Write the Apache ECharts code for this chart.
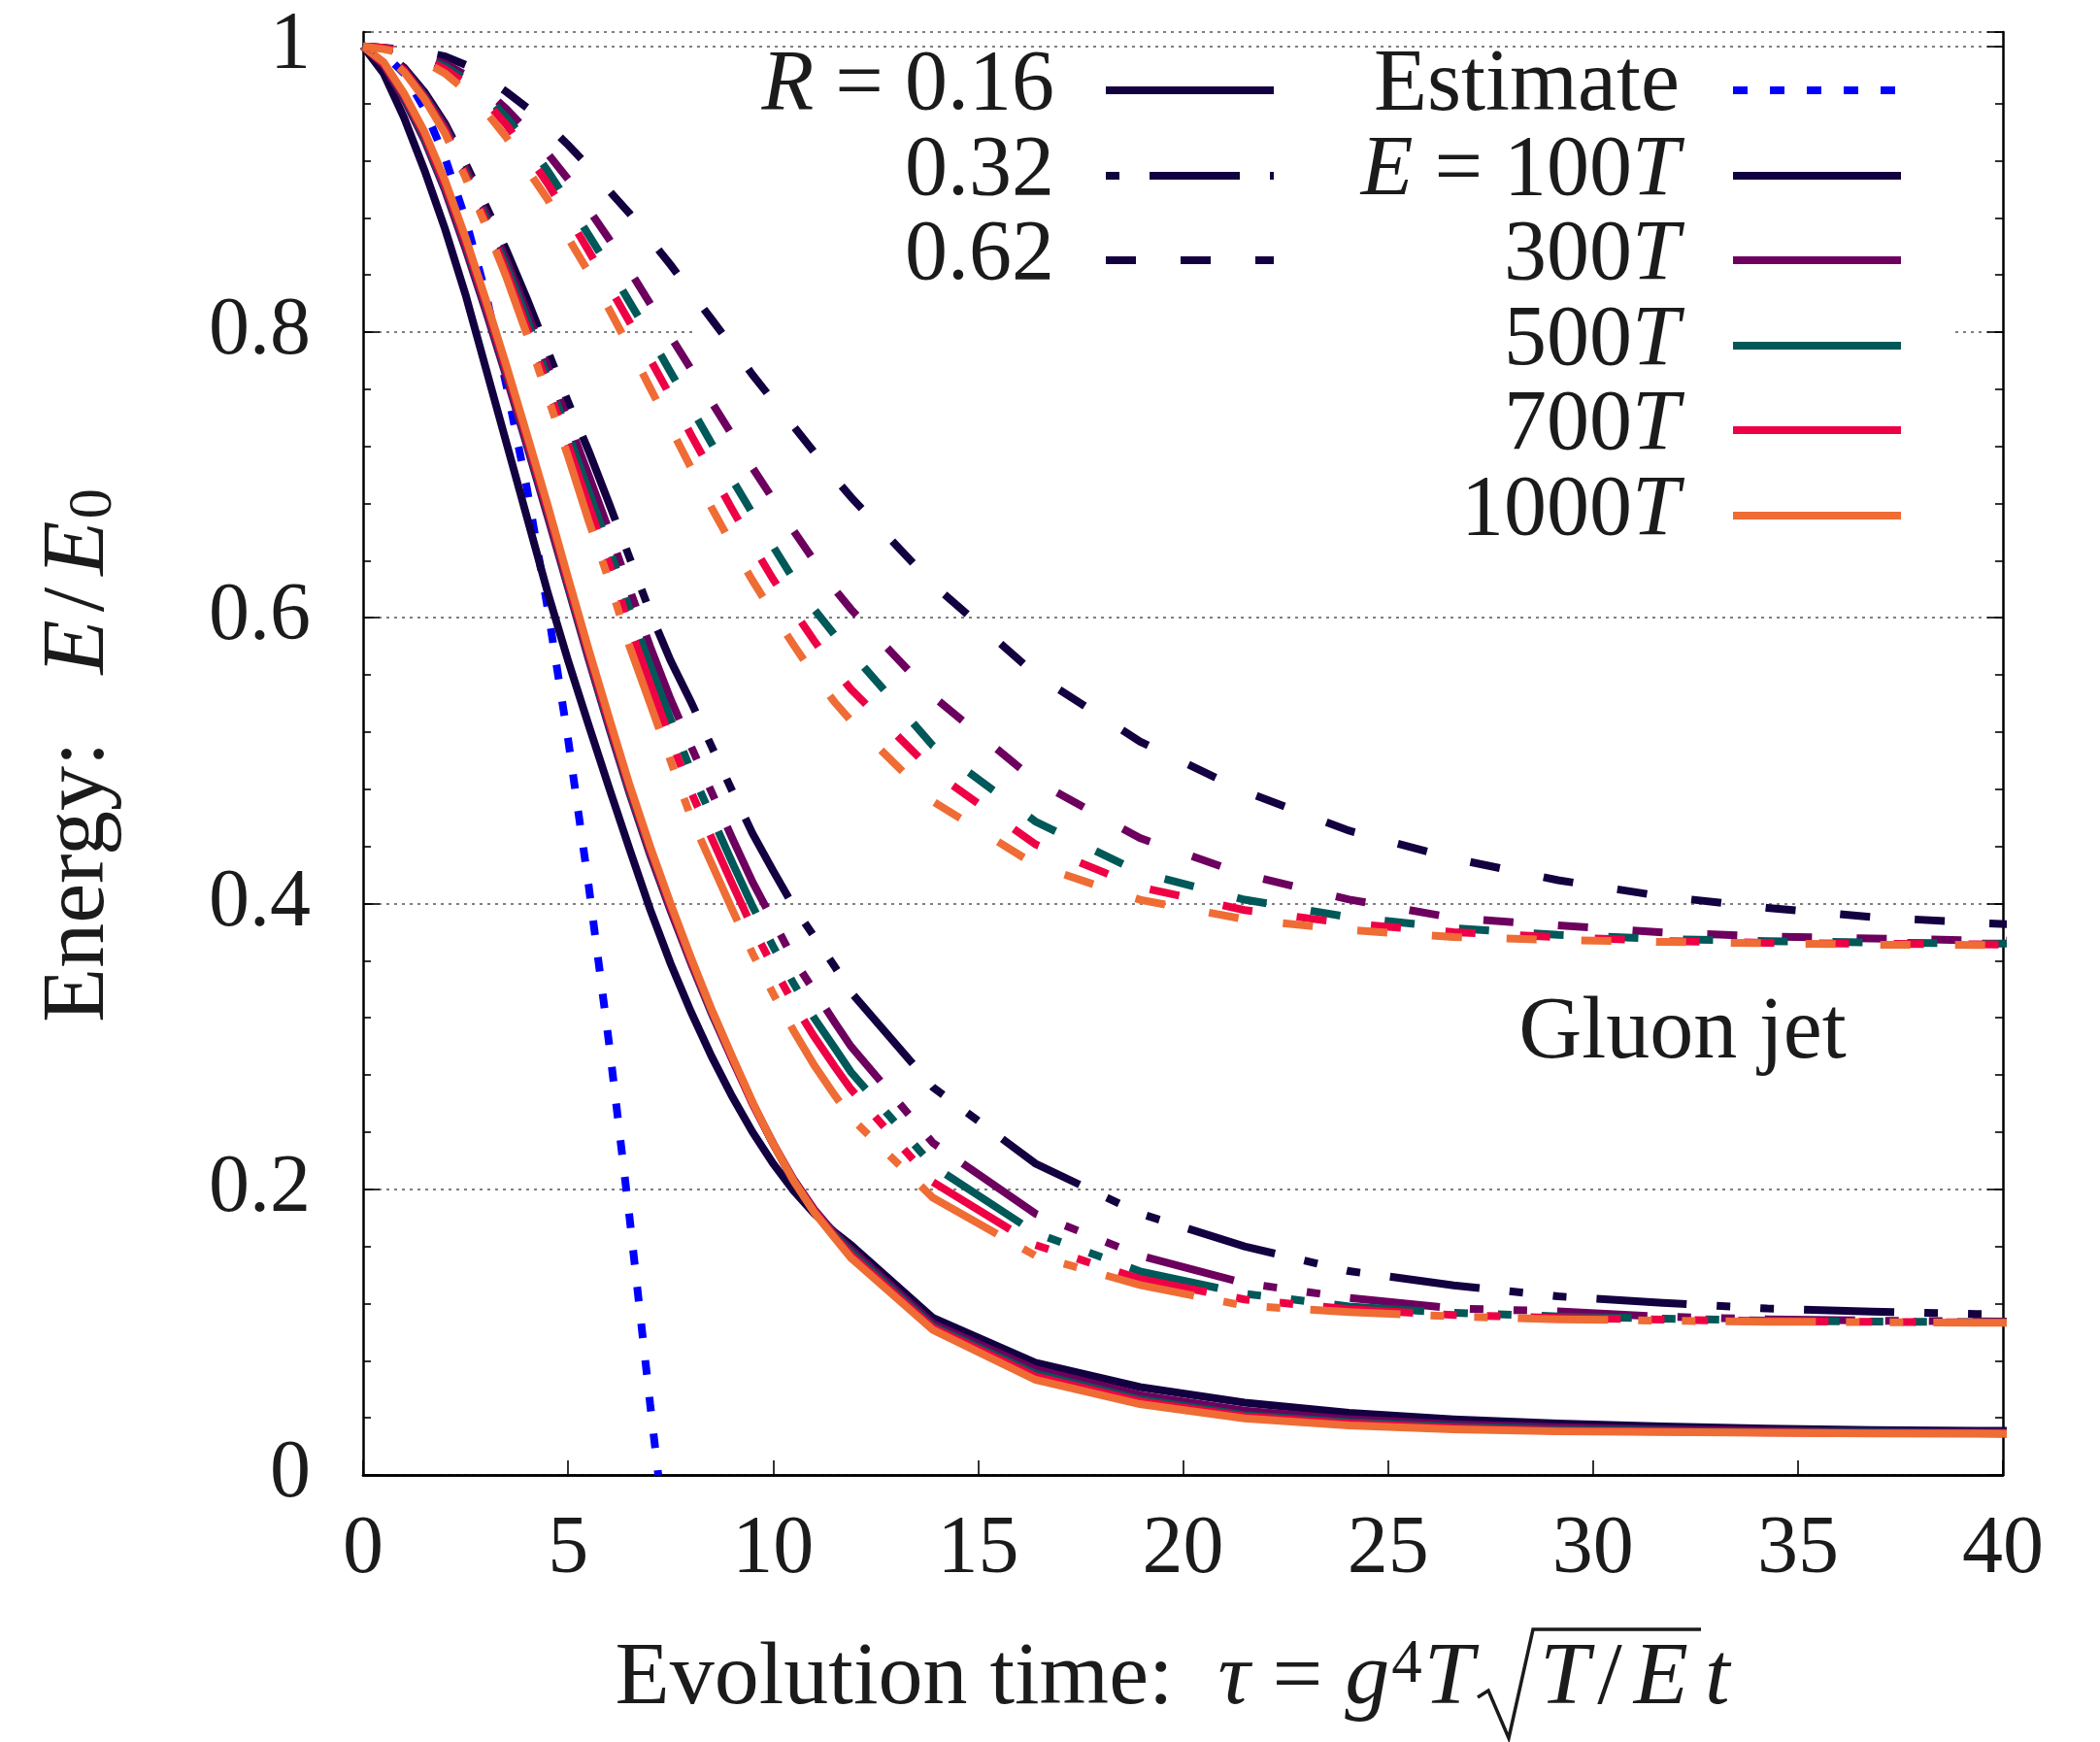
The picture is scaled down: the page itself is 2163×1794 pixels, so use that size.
<!DOCTYPE html>
<html>
<head>
<meta charset="utf-8">
<title>Gluon jet energy loss</title>
<script src="https://cdn.jsdelivr.net/npm/echarts/dist/echarts.min.js"></script>
<style>
  html, body { margin: 0; padding: 0; background: #ffffff; }
  #chart { width: 2163px; height: 1794px; }
</style>
</head>
<body>
<div id="chart"></div>
<script>
// Evolution time grid shared by all simulated curves
const tau = [0, 0.5, 1, 1.5, 2, 2.5, 3, 3.5, 4, 4.5, 5, 5.5, 6, 6.5, 7, 7.5, 8, 8.5, 9, 9.5,
             10, 10.5, 11, 11.5, 11.9, 13.9, 16.4, 18.95, 21.5, 24.05, 26.6, 29.15, 31.7,
             34.25, 36.8, 39.35, 41.9];

// R = 0.16 (solid)
const solid100  = [1,0.981,0.95,0.913,0.872,0.826,0.774,0.722,0.67,0.618,0.57,0.525,0.481,0.438,0.396,0.358,0.324,0.293,0.265,0.24,0.218,0.199,0.183,0.17,0.161,0.11,0.0785,0.0615,0.0506,0.0435,0.039,0.036,0.034,0.0325,0.0315,0.031,0.0305];
const solid300  = [1,0.987,0.963,0.934,0.899,0.858,0.814,0.768,0.72,0.671,0.621,0.571,0.523,0.477,0.434,0.395,0.358,0.323,0.291,0.26,0.232,0.207,0.186,0.169,0.158,0.106,0.074,0.056,0.045,0.039,0.0355,0.0335,0.032,0.031,0.0302,0.0298,0.0295];
const solid500  = [1,0.988,0.965,0.936,0.901,0.861,0.817,0.771,0.723,0.674,0.623,0.573,0.525,0.479,0.436,0.397,0.359,0.324,0.292,0.26,0.232,0.206,0.185,0.168,0.156,0.104,0.071,0.053,0.042,0.037,0.034,0.032,0.031,0.0303,0.0297,0.0293,0.029];
const solid700  = [1,0.988,0.966,0.938,0.903,0.863,0.819,0.773,0.725,0.676,0.625,0.575,0.527,0.481,0.438,0.398,0.36,0.325,0.292,0.26,0.232,0.206,0.185,0.167,0.154,0.103,0.069,0.0515,0.041,0.036,0.033,0.031,0.0305,0.0298,0.0293,0.029,0.0289];
const solid1000 = [1,0.989,0.967,0.94,0.906,0.866,0.822,0.776,0.728,0.679,0.628,0.578,0.53,0.483,0.44,0.4,0.362,0.326,0.293,0.261,0.232,0.206,0.184,0.166,0.152,0.1015,0.0666,0.0496,0.0396,0.0347,0.032,0.0305,0.03,0.0295,0.029,0.029,0.0288];

// R = 0.32 (dash-dot)
const dd100  = [1,0.996,0.985,0.968,0.946,0.918,0.888,0.857,0.823,0.787,0.751,0.717,0.68,0.642,0.604,0.57,0.541,0.51,0.479,0.449,0.423,0.398,0.377,0.356,0.338,0.2714,0.218,0.183,0.16,0.1427,0.1327,0.125,0.1205,0.1165,0.1143,0.1127,0.1115];
const dd300  = [1,0.996,0.984,0.966,0.944,0.915,0.883,0.85,0.814,0.776,0.738,0.7,0.661,0.62,0.58,0.543,0.51,0.478,0.446,0.415,0.388,0.361,0.339,0.317,0.3,0.2324,0.1829,0.1536,0.1343,0.124,0.1166,0.1145,0.1108,0.109,0.108,0.1075,0.107];
const dd500  = [1,0.995,0.983,0.965,0.942,0.912,0.88,0.846,0.809,0.768,0.729,0.689,0.649,0.606,0.567,0.529,0.493,0.461,0.429,0.398,0.37,0.344,0.32,0.299,0.282,0.2164,0.1695,0.1425,0.1269,0.118,0.1135,0.111,0.1095,0.108,0.1074,0.107,0.1067];
const dd700  = [1,0.995,0.983,0.964,0.941,0.91,0.877,0.842,0.803,0.762,0.721,0.679,0.638,0.594,0.554,0.515,0.478,0.446,0.414,0.383,0.356,0.33,0.307,0.286,0.27,0.205,0.161,0.1372,0.1229,0.116,0.112,0.11,0.1088,0.1077,0.1072,0.1068,0.1066];
const dd1000 = [1,0.995,0.982,0.963,0.939,0.908,0.874,0.838,0.798,0.755,0.713,0.668,0.626,0.58,0.54,0.5,0.46,0.428,0.396,0.365,0.337,0.311,0.287,0.266,0.25,0.194,0.1535,0.133,0.1185,0.114,0.111,0.109,0.108,0.1073,0.107,0.1066,0.1065];

// R = 0.62 (dashed)
const dsh100  = [1,0.999,0.998,0.996,0.993,0.987,0.978,0.968,0.957,0.945,0.931,0.916,0.899,0.883,0.865,0.847,0.828,0.809,0.79,0.77,0.752,0.734,0.716,0.698,0.6845,0.6235,0.5605,0.5134,0.4785,0.451,0.4315,0.4163,0.405,0.397,0.3905,0.3865,0.3835];
const dsh300  = [1,0.999,0.997,0.993,0.988,0.98,0.969,0.956,0.941,0.925,0.907,0.886,0.865,0.843,0.82,0.797,0.774,0.751,0.728,0.705,0.683,0.661,0.64,0.62,0.606,0.545,0.486,0.4458,0.4203,0.4028,0.39,0.3847,0.3797,0.377,0.3755,0.3742,0.3735];
const dsh500  = [1,0.999,0.996,0.992,0.986,0.977,0.965,0.95,0.933,0.913,0.891,0.868,0.845,0.821,0.797,0.772,0.747,0.722,0.697,0.673,0.65,0.627,0.606,0.588,0.576,0.5104,0.4574,0.4217,0.4027,0.3905,0.3828,0.378,0.3752,0.3737,0.3727,0.372,0.3716];
const dsh700  = [1,0.999,0.996,0.991,0.984,0.974,0.961,0.945,0.925,0.904,0.881,0.857,0.832,0.807,0.781,0.755,0.728,0.702,0.676,0.651,0.627,0.605,0.584,0.564,0.55,0.4925,0.4414,0.4115,0.3954,0.386,0.3799,0.3765,0.3738,0.3725,0.3718,0.3714,0.3712];
const dsh1000 = [1,0.998,0.995,0.989,0.981,0.969,0.954,0.936,0.914,0.893,0.866,0.842,0.816,0.789,0.761,0.733,0.705,0.677,0.651,0.626,0.603,0.581,0.56,0.541,0.528,0.4715,0.427,0.4026,0.389,0.3815,0.3765,0.3745,0.3731,0.3722,0.3712,0.371,0.3709];

// Analytic estimate (dotted)
const estTau = [0, 0.5, 1, 1.5, 2, 2.5, 3, 3.5, 4, 4.5, 5, 5.5, 6, 6.5, 7, 7.2];
const estVal = [1, 0.995, 0.981, 0.956, 0.922, 0.879, 0.826, 0.762, 0.69, 0.607, 0.515, 0.413, 0.302, 0.18, 0.05, 0];

// Tick values
const xTicks = [0, 5, 10, 15, 20, 25, 30, 35, 40];
const yTicks = [0, 0.2, 0.4, 0.6, 0.8, 1];

// Energies and radii
const energyLabels = ['100', '300', '500', '700', '1000'];
const radiusLabels = ['0.16', '0.32', '0.62'];

const FONT = "'Liberation Serif', 'Times New Roman', serif";
const INK = '#1b1b1b';
const COLORS = ['#130040', '#6d005e', '#005859', '#ee0045', '#ef6c35'];
const BLUE = '#0000ff';
const LW = 8;
const DASHED = [31, 46];
const DASHDOT = [93, 31, 14, 31, 14, 31];
const DOTTED = [15, 23];

const families = [
  { style: 'solid', offset: 0,   sets: [solid100, solid300, solid500, solid700, solid1000] },
  { style: DASHDOT, offset: 170, sets: [dd100, dd300, dd500, dd700, dd1000] },
  { style: DASHED,  offset: 0,   sets: [dsh100, dsh300, dsh500, dsh700, dsh1000] }
];

const zip = (xs, ys) => xs.map((x, i) => [x, ys[i]]);

const series = [{
  type: 'line', name: 'Estimate', data: zip(estTau, estVal),
  showSymbol: false, symbol: 'none', silent: true, z: 2,
  lineStyle: { color: BLUE, width: LW, type: DOTTED, cap: 'butt' }
}];
families.forEach((fam, fi) => {
  fam.sets.forEach((vals, ei) => {
    series.push({
      type: 'line', name: 'R=' + radiusLabels[fi] + ' E=' + energyLabels[ei] + 'T',
      data: zip(tau, vals), showSymbol: false, symbol: 'none', silent: true, z: 3,
      lineStyle: { color: COLORS[ei], width: LW, type: fam.style, dashOffset: fam.offset, cap: 'butt', join: 'miter' }
    });
  });
});

// Text helpers: roman body with italic math tokens
function richFor(size) {
  return {
    i:   { fontFamily: FONT, fontSize: size, fontStyle: 'italic', fill: INK },
    sl:  { fontFamily: FONT, fontSize: size, fill: INK, padding: [0, 12, 0, 8] },
    sup: { fontFamily: FONT, fontSize: Math.round(size * 0.68), fill: INK, verticalAlign: 'top', padding: [0, 2, 30, 2] },
    sub: { fontFamily: FONT, fontSize: Math.round(size * 0.68), fill: INK, verticalAlign: 'bottom', padding: [30, 0, 0, 2] }
  };
}
function label(text, x, y, align, size, extra) {
  return Object.assign({
    type: 'text', z: 20, silent: true,
    style: { text: text, x: x, y: y, align: align, verticalAlign: 'middle',
             fontFamily: FONT, fontSize: size, fill: INK, rich: richFor(size) }
  }, extra || {});
}
function sample(x1, x2, y, color, dash, offset) {
  return {
    type: 'line', z: 20, silent: true,
    shape: { x1: x1, y1: y, x2: x2, y2: y },
    style: { stroke: color, lineWidth: LW, lineDash: dash || null, lineDashOffset: offset || 0, lineCap: 'butt' }
  };
}

const KEY = 88;
const rowY = [93, 181, 268, 356, 443, 531];
const graphic = [
  // opaque key background: hides the grid under the key, curves stay on top
  { type: 'rect', z: 1, silent: true, shape: { x: 717, y: 58, width: 1294, height: 512 }, style: { fill: '#ffffff' } },

  label('{i|R} = ' + radiusLabels[0], 1086, rowY[0] - 4, 'right', KEY),
  label(radiusLabels[1], 1086, rowY[1] - 4, 'right', KEY),
  label(radiusLabels[2], 1086, rowY[2] - 4, 'right', KEY),
  sample(1139, 1312, rowY[0], COLORS[0], null, 0),
  sample(1139, 1312, rowY[1], COLORS[0], DASHDOT, 169),
  sample(1139, 1312, rowY[2], COLORS[0], DASHED, 0),

  label('Estimate', 1730, rowY[0] - 4, 'right', KEY + 2),
  sample(1785, 1958, rowY[0], BLUE, DOTTED, 0),
  label('{i|E} = ' + energyLabels[0] + '{i|T}', 1730, rowY[1] - 4, 'right', KEY),
  label(energyLabels[1] + '{i|T}', 1730, rowY[2] - 4, 'right', KEY),
  label(energyLabels[2] + '{i|T}', 1730, rowY[3] - 4, 'right', KEY),
  label(energyLabels[3] + '{i|T}', 1730, rowY[4] - 4, 'right', KEY),
  label(energyLabels[4] + '{i|T}', 1730, rowY[5] - 4, 'right', KEY),
  sample(1785, 1958, rowY[1], COLORS[0]),
  sample(1785, 1958, rowY[2], COLORS[1]),
  sample(1785, 1958, rowY[3], COLORS[2]),
  sample(1785, 1958, rowY[4], COLORS[3]),
  sample(1785, 1958, rowY[5], COLORS[4]),

  label('Gluon jet', 1733, 1065, 'center', 90),

  // y-axis title
  label('Energy:   {i|E}{sl|/}{i|E}{sub|0}', 0, 0, 'center', 92, { x: 82, y: 778, rotation: Math.PI / 2 }),

  // x-axis title, with a drawn radical sign
  label('Evolution time:  {i|τ} = {i|g}{sup|4}{i|T}', 1518, 1730, 'right', 92),
  {
    type: 'polyline', z: 20, silent: true,
    shape: { points: [[1522, 1748], [1533, 1741], [1554, 1790], [1579, 1678], [1752, 1678]] },
    style: { stroke: INK, lineWidth: 3.5, fill: null, lineJoin: 'miter' }
  },
  label('{i|T}{sl|/}{i|E}', 1586, 1730, 'left', 92),
  label('{i|t}', 1756, 1730, 'left', 92)
];

const chart = echarts.init(document.getElementById('chart'), null, { renderer: 'canvas' });

const axisLineStyle = { color: '#000', width: 2.5 };
const tickStyle = { color: '#000', width: 1.6 };

chart.setOption({
  animation: false,
  backgroundColor: '#ffffff',
  grid: { left: 374, right: 100, top: 33, bottom: 275, containLabel: false },
  xAxis: [
    {
      type: 'value', min: xTicks[0], max: xTicks[xTicks.length - 1], interval: 5, position: 'bottom',
      axisLine: { show: true, lineStyle: axisLineStyle },
      axisTick: { show: true, inside: true, length: 15, lineStyle: tickStyle },
      axisLabel: { show: true, fontFamily: FONT, fontSize: 84, color: INK, margin: 36,
                   formatter: v => String(v) },
      splitLine: { show: false }
    },
    {
      type: 'value', min: xTicks[0], max: xTicks[xTicks.length - 1], position: 'top',
      axisLine: { show: true, lineStyle: axisLineStyle },
      axisTick: { show: false }, axisLabel: { show: false }, splitLine: { show: false }
    }
  ],
  yAxis: [
    {
      type: 'value', min: 0, max: 1.01, interval: 0.2, position: 'left',
      axisLine: { show: true, lineStyle: axisLineStyle },
      axisTick: { show: true, inside: true, length: 17, lineStyle: tickStyle },
      axisLabel: { show: true, fontFamily: FONT, fontSize: 84, color: INK, margin: 54, showMaxLabel: false,
                   formatter: v => (yTicks.some(t => Math.abs(t - v) < 1e-6) ? (v === 0 ? '0' : v === 1 ? '1' : v.toFixed(1)) : '') },
      splitLine: { show: true, lineStyle: { color: '#555', width: 1.6, type: [3, 5] } }
    },
    {
      type: 'value', min: 0, max: 1.01, interval: 0.04, position: 'left',
      axisLine: { show: false }, axisLabel: { show: false }, splitLine: { show: false },
      axisTick: { show: true, inside: true, length: 8, lineStyle: tickStyle }
    },
    {
      type: 'value', min: 0, max: 1.01, interval: 0.2, position: 'right',
      axisLine: { show: true, lineStyle: axisLineStyle }, axisLabel: { show: false }, splitLine: { show: false },
      axisTick: { show: true, inside: true, length: 16, lineStyle: tickStyle }
    },
    {
      type: 'value', min: 0, max: 1.01, interval: 0.04, position: 'right',
      axisLine: { show: false }, axisLabel: { show: false }, splitLine: { show: false },
      axisTick: { show: true, inside: true, length: 8, lineStyle: tickStyle }
    }
  ],
  series: series,
  graphic: graphic
});
</script>
</body>
</html>
